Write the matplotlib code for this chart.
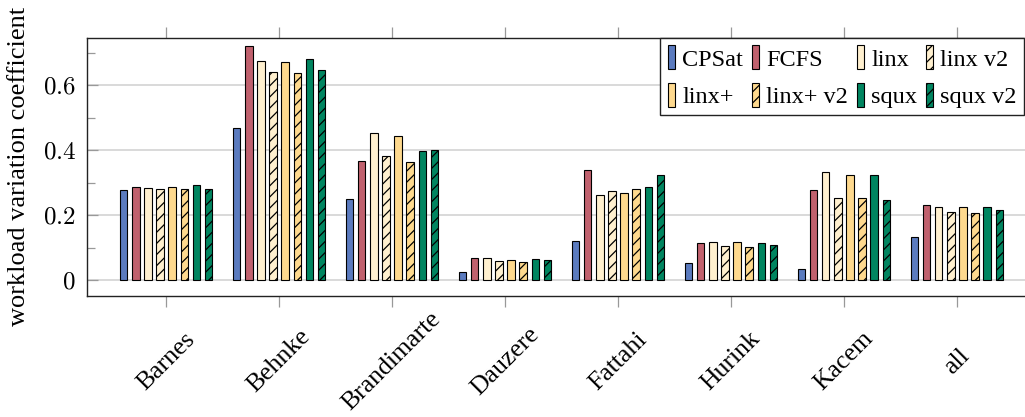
import numpy as np
import matplotlib
matplotlib.use('Agg')
import matplotlib.pyplot as plt
from matplotlib.ticker import MultipleLocator

plt.rcParams['font.family'] = ['Liberation Serif', 'DejaVu Serif']
plt.rcParams['mathtext.fontset'] = 'cm'
plt.rcParams['hatch.linewidth'] = 0.9

# --- data ---
groups = ['Barnes', 'Behnke', 'Brandimarte', 'Dauzere', 'Fattahi', 'Hurink', 'Kacem', 'all']
series = ['CPSat', 'FCFS', 'linx', 'linx v2', 'linx+', 'linx+ v2', 'squx', 'squx v2']

cpsat    = [0.278, 0.470, 0.250, 0.025, 0.122, 0.053, 0.036, 0.135]
fcfs     = [0.289, 0.720, 0.367, 0.069, 0.339, 0.114, 0.278, 0.232]
linx     = [0.285, 0.674, 0.454, 0.069, 0.262, 0.118, 0.334, 0.225]
linx_v2  = [0.283, 0.641, 0.382, 0.059, 0.276, 0.106, 0.255, 0.211]
linxp    = [0.287, 0.671, 0.446, 0.063, 0.269, 0.118, 0.325, 0.225]
linxp_v2 = [0.283, 0.638, 0.364, 0.057, 0.281, 0.103, 0.253, 0.209]
squx     = [0.294, 0.682, 0.398, 0.065, 0.287, 0.114, 0.326, 0.225]
squx_v2  = [0.280, 0.647, 0.402, 0.064, 0.326, 0.108, 0.248, 0.217]

values = [cpsat, fcfs, linx, linx_v2, linxp, linxp_v2, squx, squx_v2]
colors = ['#5b7bbf', '#c0616e', '#fff0cf', '#fff0cf', '#fed98e', '#fed98e', '#008560', '#008560']
hatches = [None, None, None, '///', None, '///', None, '///']

fig = plt.figure(figsize=(10.25, 4.17), dpi=100)
# axes runs past the right edge like in the reference (cropped)
ax = fig.add_axes([87 / 1025, 121 / 417, (1036 - 87) / 1025, (296 - 37.7) / 417])

x = np.arange(len(groups))
pitch = 0.107
width = 0.065
handles = []
for k, (vals, c, h) in enumerate(zip(values, colors, hatches)):
    b = ax.bar(x + (k - 3.5) * pitch, vals, width, color=c, hatch=h,
               edgecolor='black', linewidth=0.8, label=series[k], zorder=3)
    handles.append(b)

ax.set_xlim(-0.70, 7.70)
ax.set_ylim(-0.0477, 0.747)

ax.set_yticks([0, 0.2, 0.4, 0.6])
ax.set_yticklabels(['$0$', '$0.2$', '$0.4$', '$0.6$'], fontsize=18)
ax.yaxis.set_minor_locator(MultipleLocator(0.1))
ax.tick_params(axis='y', which='both', direction='in', left=True, right=False,
               color='#999999', width=0.9, pad=8)
ax.tick_params(axis='y', which='major', length=8)
ax.tick_params(axis='y', which='minor', length=6)
ax.grid(axis='y', which='major', color='#cfcfcf', linewidth=1.1, zorder=0)

ax.set_xticks(x)
ax.set_xticklabels(groups, rotation=45, ha='center', va='center', fontsize=18.5)
ax.tick_params(axis='x', which='both', direction='out', top=True, bottom=True,
               length=8, color='#999999', width=0.9, pad=39)

for s in ax.spines.values():
    s.set_color('#222222')
    s.set_linewidth(1.0)

fig.text(19 / 1025, 1 - 166 / 417, 'workload variation coefficient', rotation=90,
         ha='center', va='center', fontsize=19)

# legend laid out row by row like the original
order = [0, 4, 1, 5, 2, 6, 3, 7]
leg = ax.legend([handles[i] for i in order], [series[i] for i in order], ncol=4,
                loc='upper right', bbox_to_anchor=(1024 / 1025, 1 - 38 / 417),
                bbox_transform=fig.transFigure, borderaxespad=0, fontsize=17.5,
                handlelength=0.3, handleheight=1.15, handletextpad=0.3,
                columnspacing=0.35, labelspacing=0.5, borderpad=0.3,
                fancybox=False, framealpha=1, edgecolor='#222222')
leg.get_frame().set_linewidth(1.0)
leg.set_zorder(5)

fig.savefig('out.png', dpi=100)
